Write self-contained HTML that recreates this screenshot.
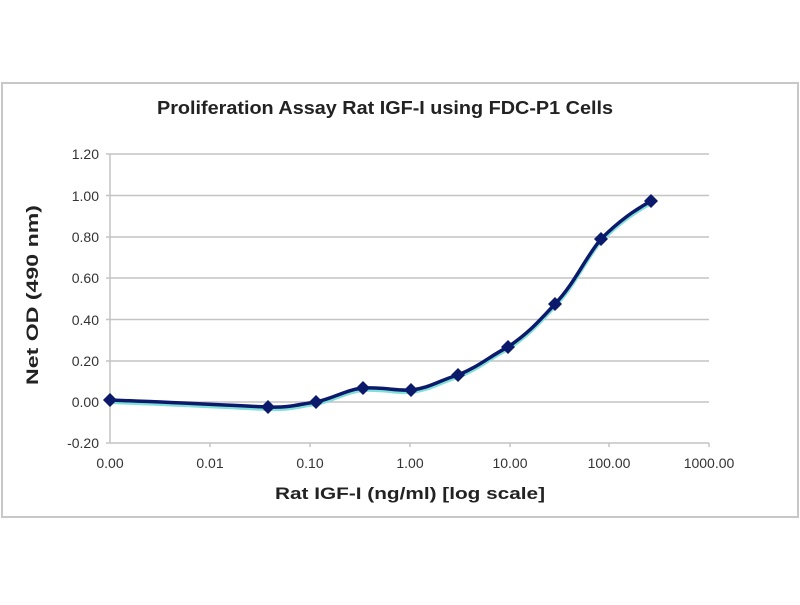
<!DOCTYPE html>
<html><head><style>body{margin:0;background:#fff}</style></head><body>
<svg width="800" height="600" xmlns="http://www.w3.org/2000/svg" font-family="Liberation Sans, sans-serif">
<rect x="2" y="83" width="796" height="434" fill="#fff" stroke="#c8c8c8" stroke-width="2"/>
<text x="385" y="114" text-anchor="middle" font-size="18" font-weight="bold" fill="#222" textLength="456" lengthAdjust="spacingAndGlyphs">Proliferation Assay Rat IGF-I using FDC-P1 Cells</text>
<g stroke="#c4c4c4" stroke-width="1.5">
<line x1="110" y1="154" x2="709" y2="154"/><line x1="110" y1="195.5" x2="709" y2="195.5"/>
<line x1="110" y1="237" x2="709" y2="237"/><line x1="110" y1="278" x2="709" y2="278"/>
<line x1="110" y1="319.5" x2="709" y2="319.5"/><line x1="110" y1="361" x2="709" y2="361"/>
<line x1="110" y1="402" x2="709" y2="402"/><line x1="110" y1="443" x2="709" y2="443"/>
<line x1="110" y1="154" x2="110" y2="443"/>
<line x1="106" y1="154" x2="110" y2="154"/><line x1="106" y1="195.5" x2="110" y2="195.5"/><line x1="106" y1="237" x2="110" y2="237"/><line x1="106" y1="278" x2="110" y2="278"/><line x1="106" y1="319.5" x2="110" y2="319.5"/><line x1="106" y1="361" x2="110" y2="361"/><line x1="106" y1="402" x2="110" y2="402"/><line x1="106" y1="443" x2="110" y2="443"/>
<line x1="210" y1="443" x2="210" y2="447"/><line x1="310" y1="443" x2="310" y2="447"/><line x1="410" y1="443" x2="410" y2="447"/><line x1="510" y1="443" x2="510" y2="447"/><line x1="609" y1="443" x2="609" y2="447"/><line x1="709" y1="443" x2="709" y2="447"/>
</g>
<g font-size="14" fill="#333" text-anchor="end">
<text x="99" y="159">1.20</text><text x="99" y="201">1.00</text><text x="99" y="242">0.80</text><text x="99" y="283">0.60</text><text x="99" y="325">0.40</text><text x="99" y="366">0.20</text><text x="99" y="407">0.00</text><text x="99" y="448">-0.20</text>
</g>
<g font-size="14" fill="#333" text-anchor="middle">
<text x="110" y="468">0.00</text><text x="210" y="468">0.01</text><text x="310" y="468">0.10</text><text x="410" y="468">1.00</text><text x="510" y="468">10.00</text><text x="609" y="468">100.00</text><text x="709" y="468">1000.00</text>
</g>
<text x="410" y="499" text-anchor="middle" font-size="17" font-weight="bold" fill="#222" textLength="270" lengthAdjust="spacingAndGlyphs">Rat IGF-I (ng/ml) [log scale]</text>
<text transform="translate(38,295) rotate(-90)" text-anchor="middle" font-size="17" font-weight="bold" fill="#222" textLength="180" lengthAdjust="spacingAndGlyphs">Net OD (490 nm)</text>
<path d="M110,402 C190,405 240,408 268,409 C290,410 300,406 316,404 C335,400 345,392 363,390 C385,389 395,393 411,392 C430,390 440,382 458,377 C480,368 490,358 508,349 C530,334 540,322 555,306 C575,285 585,260 601,241 C620,222 635,212 651,203" fill="none" stroke="#7fe0d8" stroke-width="4"/>
<path d="M110,400 C190,403 240,406 268,407 C290,408 300,404 316,402 C335,398 345,390 363,388 C385,387 395,391 411,390 C430,388 440,380 458,375 C480,366 490,356 508,347 C530,332 540,320 555,304 C575,283 585,258 601,239 C620,220 635,210 651,201" fill="none" stroke="#0b1a6b" stroke-width="3.5"/>
<g fill="#0b1a6b">
<path d="M110,393l7,7l-7,7l-7,-7z"/><path d="M268,400l7,7l-7,7l-7,-7z"/><path d="M316,395l7,7l-7,7l-7,-7z"/><path d="M363,381l7,7l-7,7l-7,-7z"/><path d="M411,383l7,7l-7,7l-7,-7z"/><path d="M458,368l7,7l-7,7l-7,-7z"/><path d="M508,340l7,7l-7,7l-7,-7z"/><path d="M555,297l7,7l-7,7l-7,-7z"/><path d="M601,232l7,7l-7,7l-7,-7z"/><path d="M651,194l7,7l-7,7l-7,-7z"/>
</g>
</svg>
</body></html>
